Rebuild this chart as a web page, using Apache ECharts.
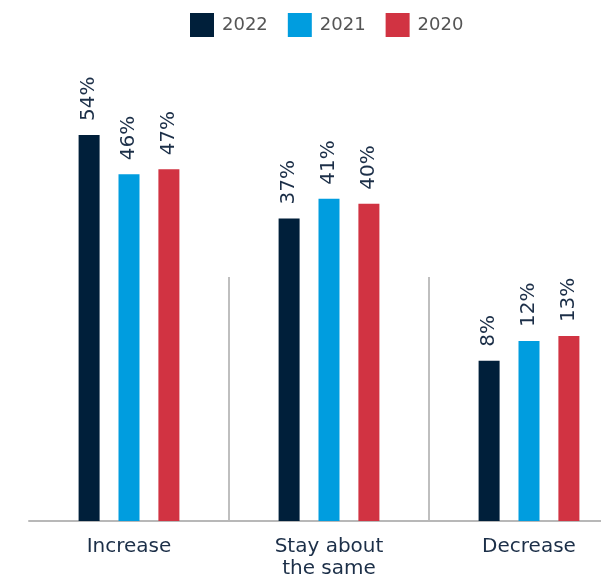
<!DOCTYPE html>
<html>
<head>
<meta charset="utf-8">
<script src="https://cdn.jsdelivr.net/npm/echarts@6/dist/echarts.min.js"></script>
<style>
  html, body { margin: 0; padding: 0; background: #fff; }
  #chart { width: 601px; height: 577px; }
</style>
</head>
<body>
<div id="chart"></div>
<script>
const categories = ['Increase', 'Stay about\nthe same', 'Decrease']
const years = ['2022', '2021', '2020']
const values2022 = [54, 37, 8]
const values2021 = [46, 41, 12]
const values2020 = [47, 40, 13]
const colors = ['#001f3a', '#009ddf', '#d13342']

const fontFamily = '"DejaVu Sans", sans-serif'
const textColor = '#1c2f48'

const chart = echarts.init(document.getElementById('chart'))

const seriesData = [values2022, values2021, values2020]
const series = years.map((year, i) => ({
  name: year,
  type: 'bar',
  xAxisIndex: 0,
  yAxisIndex: 0,
  barWidth: 21,
  barGap: '90%',
  itemStyle: { color: colors[i] },
  label: {
    show: true,
    position: 'top',
    rotate: 90,
    align: 'left',
    verticalAlign: 'middle',
    distance: 14,
    formatter: '{c}%',
    color: textColor,
    fontFamily: fontFamily,
    fontSize: 20
  },
  data: seriesData[i]
}))

chart.setOption({
  animation: false,
  color: colors,
  legend: {
    top: 8,
    left: 185,
    itemWidth: 24,
    itemHeight: 24,
    itemGap: 20,
    icon: 'rect',
    textStyle: {
      color: '#555',
      fontFamily: fontFamily,
      fontSize: 18,
      padding: [0, 0, 0, 3]
    },
    data: years
  },
  grid: [
    { left: 29, width: 600, top: 60, bottom: 56, outerBoundsMode: 'none' },
    { left: 29, width: 600, top: 277, bottom: 56, outerBoundsMode: 'none' }
  ],
  xAxis: [{
    type: 'category',
    gridIndex: 0,
    data: categories,
    axisLine: { onZero: false, lineStyle: { color: '#b8b8b8', width: 2 } },
    axisTick: { show: false },
    axisLabel: {
      color: textColor,
      fontFamily: fontFamily,
      fontSize: 20,
      lineHeight: 22,
      margin: 15
    }
  }, {
    type: 'value',
    gridIndex: 1,
    min: 0,
    max: 3,
    interval: 1,
    axisLine: { show: false },
    axisTick: { show: false },
    axisLabel: { show: false },
    splitLine: {
      show: true,
      showMinLine: false,
      lineStyle: { color: '#aaa', width: 1.5 }
    }
  }],
  yAxis: [{
    type: 'value',
    gridIndex: 0,
    min: -24.7,
    max: 69.3,
    startValue: -24.7,
    show: false
  }, {
    type: 'value',
    gridIndex: 1,
    min: 0,
    max: 1,
    show: false
  }],
  series: series
})
</script>
</body>
</html>
